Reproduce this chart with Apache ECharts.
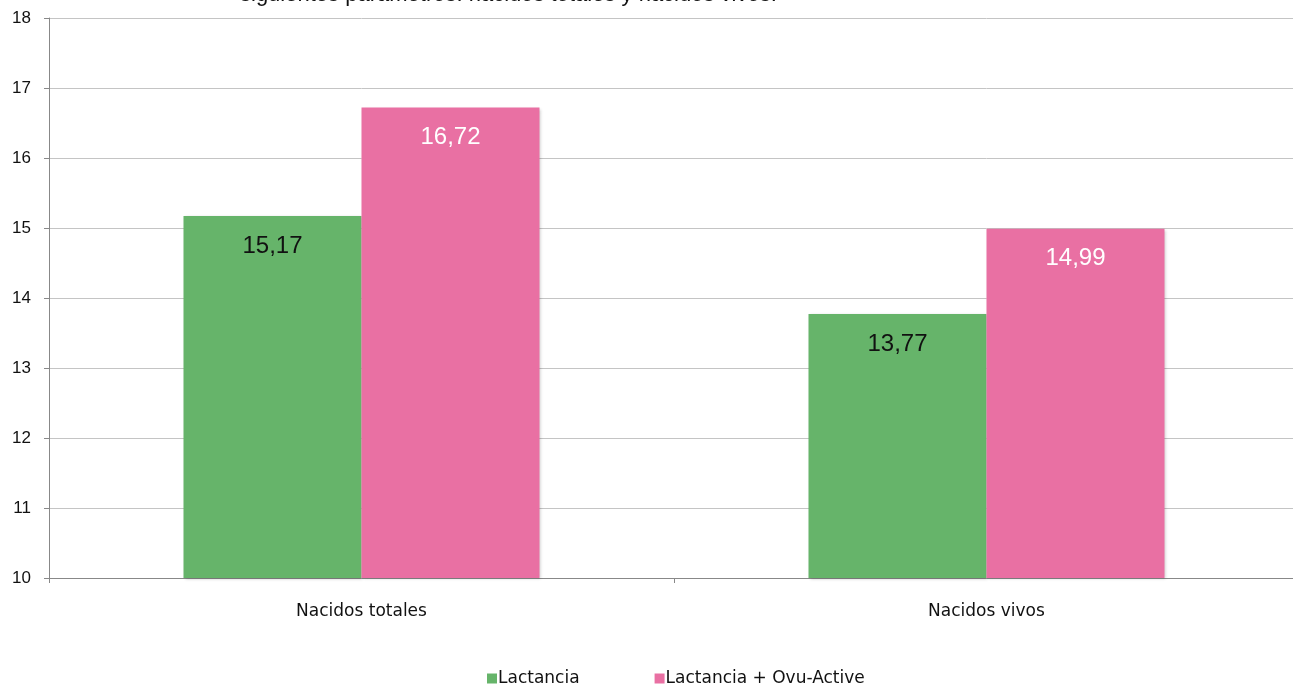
<!DOCTYPE html>
<html>
<head>
<meta charset="utf-8">
<script src="https://cdn.jsdelivr.net/npm/echarts@6/dist/echarts.min.js"></script>
<style>
  html, body { margin: 0; padding: 0; background: #fff; overflow: hidden; }
  #chart { width: 1299px; height: 686px; }
</style>
</head>
<body>
<div id="chart"></div>
<script>
// categorías y valores
var categorias = ['Nacidos totales', 'Nacidos vivos'];
var lactancia = [15.17, 13.77];
var lactanciaOvu = [16.72, 14.99];
var serieNombres = ['Lactancia', 'Lactancia + Ovu-Active'];
var yTicks = [10, 11, 12, 13, 14, 15, 16, 17, 18];

var fmt = function (p) { return p.value.toFixed(2).replace('.', ','); };

var chart = echarts.init(document.getElementById('chart'));
chart.setOption({
  animation: false,
  textStyle: { fontFamily: 'Liberation Sans, Arial, sans-serif' },
  graphic: [{
    type: 'text',
    left: 240,
    top: -16,
    style: {
      text: 'siguientes parámetros: nacidos totales y nacidos vivos.',
      font: '22px Liberation Sans, Arial, sans-serif',
      fill: '#111'
    }
  }],
  grid: { left: 49, right: 0, top: 18, bottom: 108, containLabel: false },
  legend: {
    bottom: -6,
    left: 482,
    itemWidth: 10,
    itemHeight: 10,
    itemGap: 75,
    icon: 'rect',
    textStyle: {
      fontSize: 17, color: '#111', padding: [0, 0, 0, -4],
      fontFamily: 'DejaVu Sans, sans-serif'
    },
    data: serieNombres
  },
  xAxis: {
    type: 'category',
    data: categorias,
    axisLine: { lineStyle: { color: '#888' } },
    axisTick: { show: true, length: 5, lineStyle: { color: '#888' } },
    axisLabel: {
      color: '#111', fontSize: 17, margin: 25,
      fontFamily: 'DejaVu Sans, sans-serif'
    }
  },
  yAxis: {
    type: 'value',
    min: yTicks[0],
    max: yTicks[yTicks.length - 1],
    interval: 1,
    axisLine: { show: true, lineStyle: { color: '#888' } },
    axisTick: { show: true, length: 5, lineStyle: { color: '#888' } },
    axisLabel: { color: '#111', fontSize: 17, margin: 18 },
    splitLine: { lineStyle: { color: '#c4c4c4' } }
  },
  series: [
    {
      name: serieNombres[0],
      type: 'bar',
      data: lactancia,
      barWidth: 178,
      barGap: '0%',
      itemStyle: {
        color: '#66b46a',
        shadowColor: 'rgba(0,0,0,0.2)',
        shadowBlur: 3,
        shadowOffsetX: 1,
        shadowOffsetY: 1
      },
      label: {
        show: true,
        position: 'insideTop',
        distance: 18,
        fontSize: 24,
        color: '#111',
        formatter: fmt
      }
    },
    {
      name: serieNombres[1],
      type: 'bar',
      data: lactanciaOvu,
      barWidth: 178,
      barGap: '0%',
      itemStyle: {
        color: '#e970a3',
        shadowColor: 'rgba(0,0,0,0.2)',
        shadowBlur: 3,
        shadowOffsetX: 1,
        shadowOffsetY: 1
      },
      label: {
        show: true,
        position: 'insideTop',
        distance: 18,
        fontSize: 24,
        color: '#fff',
        formatter: fmt
      }
    }
  ]
});
</script>
</body>
</html>
